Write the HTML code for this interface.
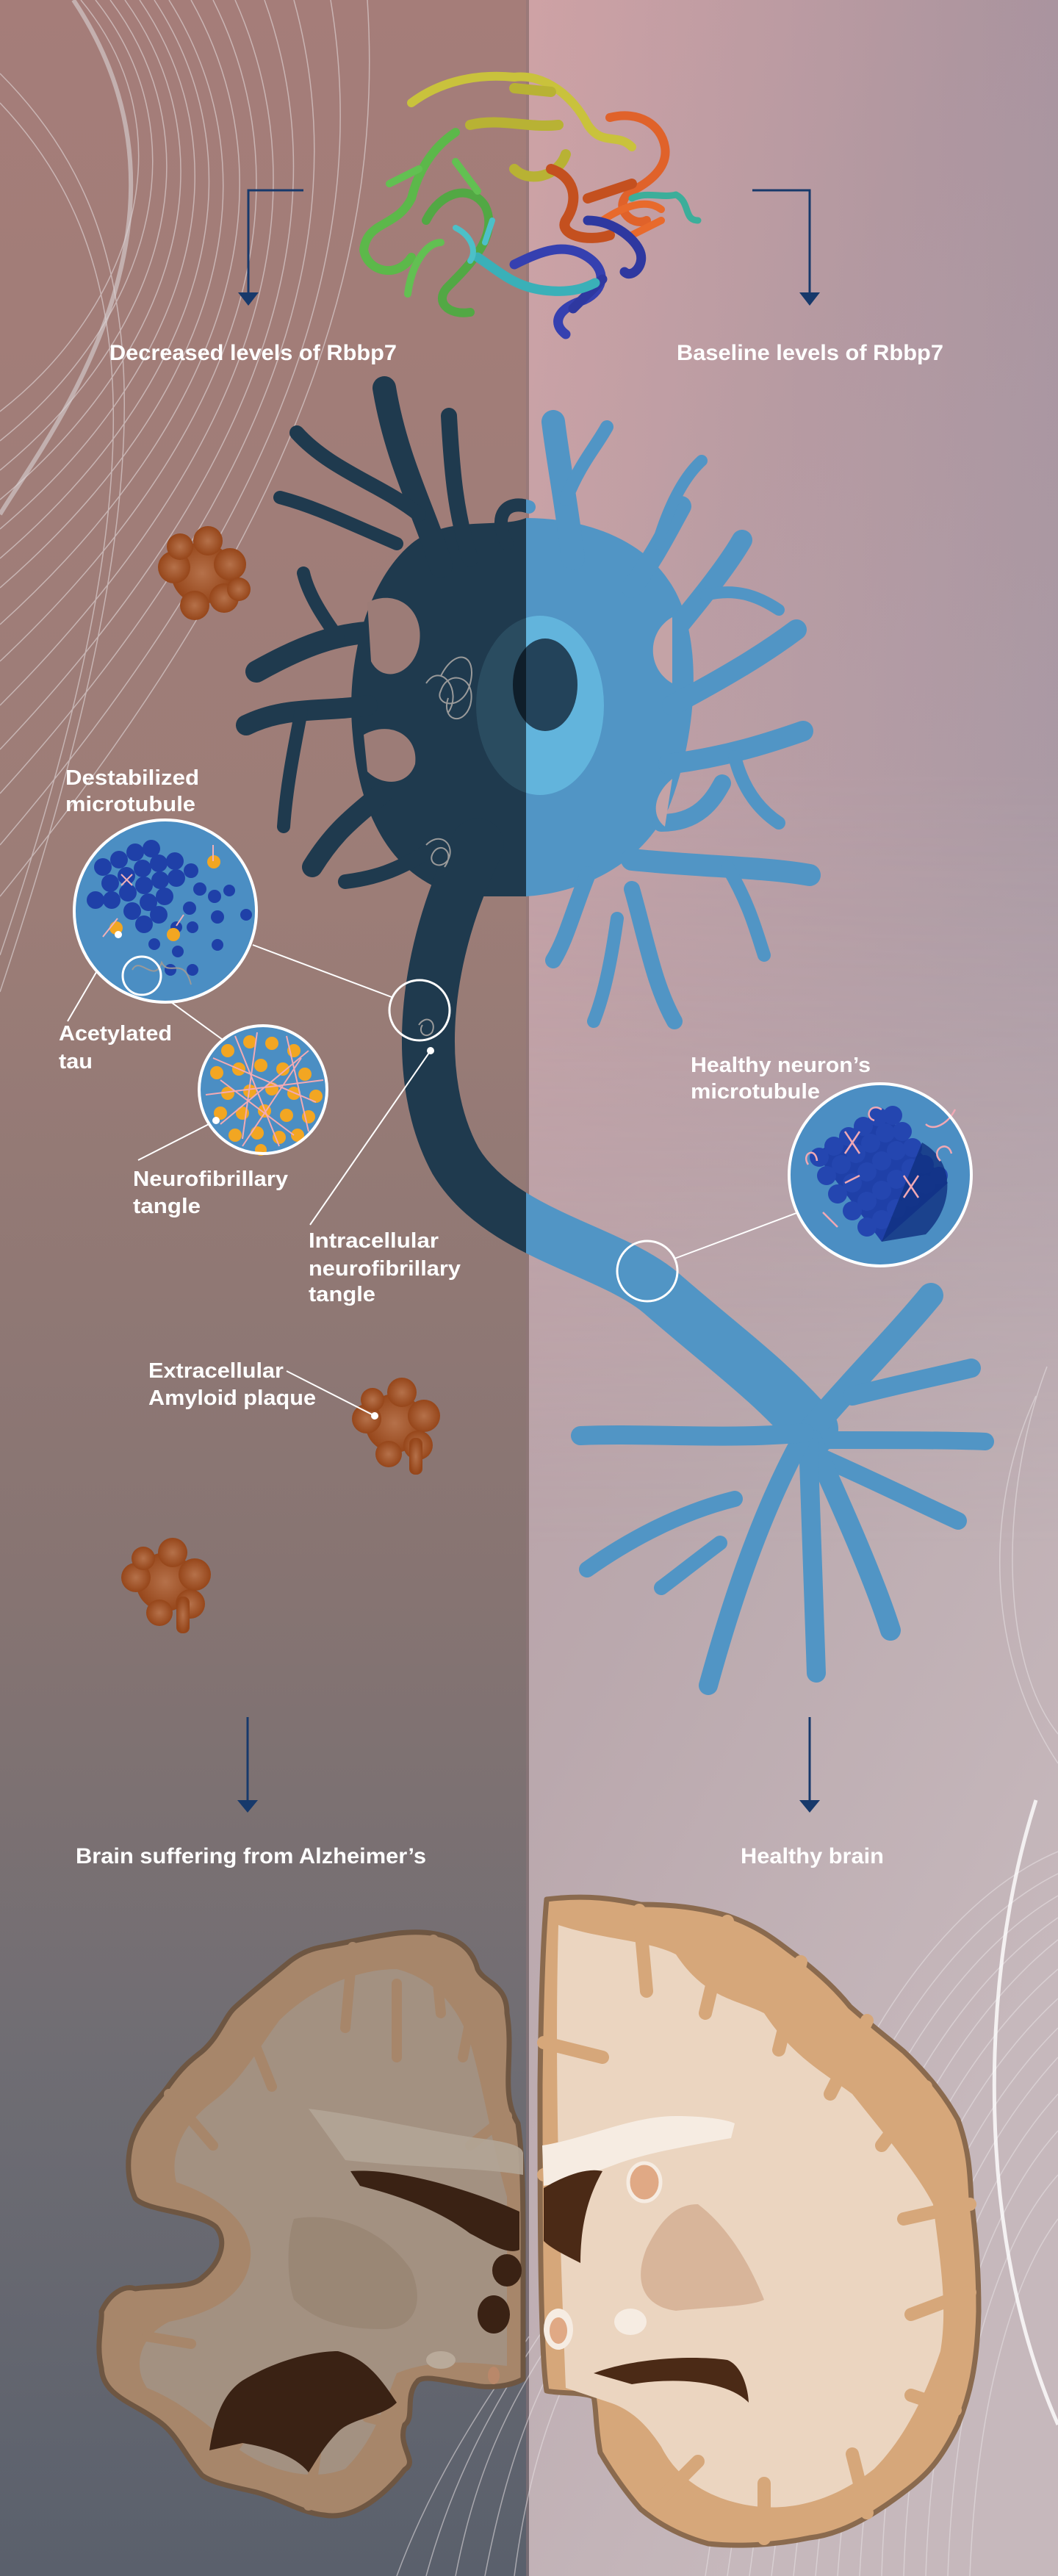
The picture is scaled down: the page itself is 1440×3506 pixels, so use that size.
<!DOCTYPE html>
<html><head><meta charset="utf-8"><style>
html,body{margin:0;padding:0;width:1440px;height:3506px;overflow:hidden}
svg{display:block}
text{font-family:"Liberation Sans Narrow","Liberation Sans",sans-serif;font-weight:bold;fill:#fff}
</style></head><body>
<svg width="1440" height="3506" viewBox="0 0 1440 3506" xmlns="http://www.w3.org/2000/svg">
<defs>
<linearGradient id="bgL" x1="0" y1="0" x2="0" y2="1">
<stop offset="0" stop-color="#a57d79"/><stop offset="0.35" stop-color="#9c7d77"/><stop offset="0.62" stop-color="#867472"/><stop offset="0.8" stop-color="#6f6d73"/><stop offset="1" stop-color="#5a606c"/></linearGradient>
<linearGradient id="bgR" x1="0" y1="0" x2="0.4" y2="1">
<stop offset="0" stop-color="#c99ea2"/><stop offset="0.3" stop-color="#b99ea4"/><stop offset="0.6" stop-color="#baa8ad"/><stop offset="1" stop-color="#c6b8bc"/></linearGradient>
<linearGradient id="bgR2" x1="0" y1="0" x2="1" y2="0">
<stop offset="0" stop-color="#d8a8ab" stop-opacity="0.35"/><stop offset="1" stop-color="#8e7f93" stop-opacity="0.35"/></linearGradient>
<linearGradient id="fade" x1="0" y1="0" x2="0" y2="1">
<stop offset="0" stop-color="#fff"/><stop offset="0.3" stop-color="#fff"/><stop offset="0.6" stop-color="#000"/><stop offset="1" stop-color="#000"/></linearGradient>
<mask id="m2"><rect x="720" y="0" width="720" height="3506" fill="url(#fade)"/></mask>
<radialGradient id="plq" cx="0.5" cy="0.5" r="0.5"><stop offset="0" stop-color="#b5714a"/><stop offset="1" stop-color="#96461a"/></radialGradient>
<clipPath id="cl"><rect x="0" y="0" width="716" height="3506"/></clipPath>
<clipPath id="cr"><rect x="716" y="0" width="724" height="3506"/></clipPath>
<g id="neu" stroke-linecap="round" stroke-linejoin="round">
<path stroke="none" d="M560,740 C610,700 680,720 716,705 C790,705 870,730 910,790 C960,860 950,1000 910,1100 C870,1180 790,1215 716,1220 L630,1220 C540,1200 490,1120 480,1000 C470,900 500,790 560,740 Z"/>
<path fill="none" stroke-width="32" d="M600,770 C580,700 540,630 523,528"/>
<path fill="none" stroke-width="20" d="M570,700 C520,660 450,640 404,589"/>
<path fill="none" stroke-width="18" d="M540,740 C470,710 430,690 381,677"/>
<path fill="none" stroke-width="22" d="M640,760 C620,700 615,640 611,566"/>
<path fill="none" stroke-width="18" d="M690,740 C670,700 690,680 720,690"/>
<path fill="none" stroke-width="30" d="M520,860 C460,860 410,880 349,914"/>
<path fill="none" stroke-width="18" d="M460,868 C440,840 420,810 413,780"/>
<path fill="none" stroke-width="28" d="M500,960 C440,970 390,960 335,987"/>
<path fill="none" stroke-width="18" d="M410,968 C400,1020 390,1070 386,1125"/>
<path fill="none" stroke-width="28" d="M520,1080 C470,1120 450,1140 425,1180"/>
<path fill="none" stroke-width="20" d="M580,1160 C540,1185 510,1195 470,1200"/>
<path fill="none" stroke-width="32" d="M780,760 C770,680 760,630 753,574"/>
<path fill="none" stroke-width="18" d="M770,680 C790,630 810,610 826,581"/>
<path fill="none" stroke-width="28" d="M860,800 C890,760 910,720 927,689"/>
<path fill="none" stroke-width="16" d="M895,740 C910,690 930,650 955,627"/>
<path fill="none" stroke-width="28" d="M900,880 C950,820 990,770 1010,735"/>
<path fill="none" stroke-width="16" d="M960,810 C1000,800 1030,810 1060,830"/>
<path fill="none" stroke-width="28" d="M915,960 C990,920 1040,890 1084,857"/>
<path fill="none" stroke-width="28" d="M910,1040 C990,1030 1050,1010 1093,995"/>
<path fill="none" stroke-width="18" d="M1000,1030 C1010,1070 1030,1100 1060,1120"/>
<path fill="none" stroke-width="24" d="M900,1120 C950,1120 970,1090 983,1066"/>
<path fill="none" stroke-width="30" d="M860,1170 C960,1180 1040,1180 1102,1191"/>
<path fill="none" stroke-width="18" d="M990,1180 C1020,1230 1030,1270 1040,1300"/>
<path fill="none" stroke-width="22" d="M800,1190 C780,1240 770,1280 753,1307"/>
<path fill="none" stroke-width="22" d="M860,1210 C880,1280 890,1340 918,1390"/>
<path fill="none" stroke-width="18" d="M840,1250 C830,1320 820,1360 808,1390"/>
<path fill="none" stroke-width="72" d="M650,1150 C575,1300 560,1470 620,1580 C680,1680 830,1700 900,1760 C980,1830 1050,1880 1105,1945"/>
<path fill="none" stroke-width="34" d="M1105,1945 C1160,1880 1220,1820 1267,1763"/>
<path fill="none" stroke-width="26" d="M1160,1900 C1240,1880 1290,1870 1322,1862"/>
<path fill="none" stroke-width="24" d="M1120,1960 C1220,1960 1290,1960 1341,1962"/>
<path fill="none" stroke-width="24" d="M1110,1980 C1200,2020 1260,2050 1304,2070"/>
<path fill="none" stroke-width="28" d="M1105,1960 C1150,2060 1190,2150 1212,2219"/>
<path fill="none" stroke-width="26" d="M1100,1960 C1105,2080 1108,2200 1111,2277"/>
<path fill="none" stroke-width="26" d="M1090,1960 C1030,2070 990,2200 964,2294"/>
<path fill="none" stroke-width="26" d="M1095,1950 C990,1960 880,1950 790,1954"/>
<path fill="none" stroke-width="22" d="M1000,2040 C920,2060 850,2100 799,2136"/>
<path fill="none" stroke-width="20" d="M980,2100 C940,2130 915,2150 900,2161"/>
</g>
</defs>

<rect x="0" y="0" width="720" height="3506" fill="url(#bgL)"/>
<rect x="720" y="0" width="720" height="3506" fill="url(#bgR)"/>
<rect x="720" y="0" width="720" height="3506" fill="url(#bgR2)" mask="url(#m2)"/>
<rect x="716" y="0" width="4" height="3506" fill="#8f7679" opacity="0.5"/>

<g fill="none" stroke="#e8e2e4" stroke-width="1.5" opacity="0.55">
<path d="M110,0 C260,180 180,420 0,560"/><path d="M130,0 C280,190 200,440 0,600"/><path d="M150,0 C300,200 220,460 0,640"/><path d="M170,0 C320,210 240,480 0,680"/><path d="M190,0 C340,220 260,500 0,720"/><path d="M210,0 C360,230 280,520 0,760"/><path d="M230,0 C380,240 300,540 0,800"/><path d="M260,0 C400,250 320,560 0,850"/><path d="M290,0 C420,260 340,580 0,900"/><path d="M320,0 C440,270 360,600 0,960"/><path d="M360,0 C460,280 380,620 0,1020"/><path d="M400,0 C480,290 400,640 0,1080"/><path d="M450,0 C500,300 420,660 0,1150"/><path d="M500,0 C520,310 440,680 0,1220"/><path d="M0,100 C200,300 250,600 0,1350"/><path d="M0,140 C180,330 230,620 0,1300"/>
<path d="M1440,2520 C1250,2600 1050,2900 960,3506"/><path d="M1440,2550 C1260,2640 1070,2930 990,3506"/><path d="M1440,2580 C1270,2680 1090,2960 1020,3506"/><path d="M1440,2610 C1280,2720 1110,2990 1050,3506"/><path d="M1440,2640 C1290,2760 1130,3020 1080,3506"/><path d="M1440,2680 C1300,2800 1150,3050 1110,3506"/><path d="M1440,2720 C1310,2840 1170,3080 1140,3506"/><path d="M1440,2760 C1320,2880 1190,3110 1170,3506"/><path d="M1440,2800 C1330,2920 1210,3140 1200,3506"/><path d="M1440,2850 C1340,2960 1240,3170 1230,3506"/><path d="M1440,2900 C1350,3000 1270,3200 1260,3506"/><path d="M1440,2960 C1360,3050 1300,3230 1290,3506"/><path d="M1440,3020 C1380,3100 1330,3260 1320,3506"/><path d="M1410,1900 C1340,2050 1340,2250 1440,2400"/><path d="M1425,1860 C1360,2030 1360,2260 1440,2360"/>
<path d="M700,3506 C720,3350 760,3250 800,3180"/><path d="M660,3506 C690,3350 730,3250 780,3170"/><path d="M620,3506 C650,3350 700,3260 760,3170"/><path d="M580,3506 C620,3360 680,3260 740,3170"/><path d="M540,3506 C590,3370 660,3270 720,3180"/>
</g>
<path d="M1410,2450 C1330,2700 1330,3050 1440,3300" fill="none" stroke="#fff" stroke-width="5" opacity="0.8"/>
<path d="M100,0 C300,300 60,600 0,700" fill="none" stroke="#d9d2d4" stroke-width="6" opacity="0.6"/>

<g fill="none" stroke-linecap="round" stroke-linejoin="round">
<path d="M560,140 C600,110 650,100 700,105 C740,100 780,130 800,170 C820,200 840,180 860,200" stroke="#c9c23c" stroke-width="12"/>
<path d="M640,170 C680,160 720,175 760,170 M700,120 L750,125 M770,210 C760,240 720,250 700,230" stroke="#b8b234" stroke-width="14"/>
<path d="M620,180 C590,200 570,230 560,270 C540,310 500,300 495,340 C500,370 540,380 560,350" stroke="#5cb84a" stroke-width="12"/>
<path d="M580,300 C600,260 640,250 660,280 C680,320 640,360 610,390 C590,410 610,430 640,425" stroke="#52a844" stroke-width="12"/>
<path d="M555,400 C560,360 580,330 600,330 M620,220 L650,260 M530,250 L570,230" stroke="#62c052" stroke-width="10"/>
<path d="M830,160 C870,150 900,170 905,200 C910,230 880,250 860,260 C830,280 860,310 880,300" stroke="#e0622a" stroke-width="12"/>
<path d="M750,230 C780,240 790,270 770,300 C760,320 800,330 830,320 M800,270 L860,250" stroke="#c4501f" stroke-width="14"/>
<path d="M820,300 C850,280 880,270 900,285 M860,320 L900,300" stroke="#e86a2c" stroke-width="10"/>
<path d="M860,270 C880,260 900,270 920,265 C940,275 930,300 950,300" stroke="#3cae9a" stroke-width="9"/>
<path d="M700,360 C740,340 770,330 800,350 C830,370 820,400 790,410 C760,420 750,440 770,455" stroke="#3540b0" stroke-width="13"/>
<path d="M800,300 C830,300 860,320 870,340 C880,360 860,380 850,370 M820,380 L780,420" stroke="#2e38a0" stroke-width="13"/>
<path d="M650,350 C680,370 700,390 740,395 C780,400 800,390 810,385" stroke="#3ab0b8" stroke-width="13"/>
<path d="M620,310 C640,320 650,340 640,355 M670,300 L660,330" stroke="#4cc0c8" stroke-width="8"/>
</g>

<g stroke="#17396b" stroke-width="3" fill="none">
<path d="M413,259 L338,259 L338,400"/><path d="M1024,259 L1102,259 L1102,400"/>
<path d="M337,2337 L337,2452"/><path d="M1102,2337 L1102,2452"/>
</g>
<g fill="#17396b">
<path d="M324,398 L352,398 L338,416 Z"/><path d="M1088,398 L1116,398 L1102,416 Z"/>
<path d="M323,2450 L351,2450 L337,2467 Z"/><path d="M1088,2450 L1116,2450 L1102,2467 Z"/>
</g>

<g fill="url(#plq)">
<g transform="translate(275,780)"><circle r="42"/><circle cx="-38" cy="-8" r="22"/><circle cx="38" cy="-12" r="22"/><circle cx="8" cy="-44" r="20"/><circle cx="-10" cy="44" r="20"/><circle cx="30" cy="34" r="20"/><circle cx="-30" cy="-36" r="18"/><circle cx="50" cy="22" r="16"/></g>
<g transform="translate(537,1937)"><circle r="40"/><circle cx="-38" cy="-6" r="20"/><circle cx="40" cy="-10" r="22"/><circle cx="10" cy="-42" r="20"/><circle cx="-8" cy="42" r="18"/><circle cx="32" cy="30" r="20"/><circle cx="-30" cy="-32" r="16"/><rect x="20" y="20" width="18" height="50" rx="8"/></g>
<g transform="translate(225,2153)"><circle r="40"/><circle cx="-40" cy="-6" r="20"/><circle cx="40" cy="-10" r="22"/><circle cx="10" cy="-40" r="20"/><circle cx="-8" cy="42" r="18"/><circle cx="34" cy="30" r="20"/><circle cx="-30" cy="-32" r="16"/><rect x="15" y="20" width="18" height="50" rx="8"/></g>
</g>

<use href="#neu" fill="#1f3a4e" stroke="#1f3a4e" clip-path="url(#cl)"/>
<use href="#neu" fill="#5195c5" stroke="#5195c5" clip-path="url(#cr)"/>
<g fill="#9c7c77"><path d="M500,820 C540,800 580,830 570,880 C560,920 520,930 505,900 Z"/><path d="M495,1000 C530,980 570,1000 565,1040 C555,1070 520,1070 500,1050 Z"/></g>
<g fill="#c4a3a6"><path d="M915,840 C880,860 880,910 915,930 Z"/><path d="M915,1060 C890,1080 885,1110 905,1125 Z"/></g>
<ellipse cx="735" cy="960" rx="87" ry="122" fill="#2a4c60" clip-path="url(#cl)"/>
<ellipse cx="735" cy="960" rx="87" ry="122" fill="#62b4dc" clip-path="url(#cr)"/>
<ellipse cx="742" cy="932" rx="44" ry="63" fill="#0f1e2a" clip-path="url(#cl)"/>
<ellipse cx="742" cy="932" rx="44" ry="63" fill="#23435a" clip-path="url(#cr)"/>
<g fill="none" stroke="#9a9a9a" stroke-width="2">
<path d="M600,920 C620,880 650,890 640,930 C630,970 590,960 600,940 C610,910 650,920 640,960 C630,990 600,980 610,950 M580,930 C600,900 630,940 610,970"/>
<path d="M580,1150 C600,1130 620,1150 610,1170 C600,1185 580,1175 590,1160 C600,1145 620,1160 605,1180"/>
<path d="M570,1395 C580,1380 595,1390 588,1405 C580,1415 568,1405 575,1395"/>
</g>

<g stroke="#fff" stroke-width="2" fill="none">
<path d="M344,1286 L533,1357"/><path d="M211,1348 L303,1415"/><path d="M161,1272 L92,1390"/><path d="M294,1525 L188,1579"/><path d="M586,1430 L422,1667"/><path d="M918,1713 L1084,1651"/><path d="M390,1866 L510,1927"/>
</g>
<circle cx="571" cy="1375" r="41" fill="none" stroke="#fff" stroke-width="3"/>
<circle cx="881" cy="1730" r="41" fill="none" stroke="#fff" stroke-width="3"/>

<g>
<circle cx="225" cy="1240" r="124" fill="#4b8ec3"/>
<g fill="#1f40a8">
<circle cx="140" cy="1180" r="12"/><circle cx="162" cy="1170" r="12"/><circle cx="184" cy="1160" r="12"/><circle cx="206" cy="1155" r="12"/><circle cx="150" cy="1202" r="12"/><circle cx="172" cy="1192" r="12"/><circle cx="194" cy="1182" r="12"/><circle cx="216" cy="1175" r="12"/><circle cx="238" cy="1172" r="12"/><circle cx="130" cy="1225" r="12"/><circle cx="152" cy="1225" r="12"/><circle cx="174" cy="1215" r="12"/><circle cx="196" cy="1205" r="12"/><circle cx="218" cy="1198" r="12"/><circle cx="240" cy="1195" r="12"/><circle cx="180" cy="1240" r="12"/><circle cx="202" cy="1228" r="12"/><circle cx="224" cy="1220" r="12"/><circle cx="196" cy="1258" r="12"/><circle cx="216" cy="1245" r="12"/><circle cx="260" cy="1185" r="10"/>
<circle cx="272" cy="1210" r="9"/><circle cx="292" cy="1220" r="9"/><circle cx="312" cy="1212" r="8"/><circle cx="258" cy="1236" r="9"/><circle cx="296" cy="1248" r="9"/><circle cx="335" cy="1245" r="8"/><circle cx="240" cy="1262" r="8"/><circle cx="262" cy="1262" r="8"/><circle cx="210" cy="1285" r="8"/><circle cx="242" cy="1295" r="8"/><circle cx="296" cy="1286" r="8"/><circle cx="232" cy="1320" r="8"/><circle cx="262" cy="1320" r="8"/>
</g>
<g fill="#f2a622"><circle cx="291" cy="1173" r="9"/><circle cx="158" cy="1263" r="9"/><circle cx="236" cy="1272" r="9"/></g>
<g fill="none" stroke="#f0b0b8" stroke-width="2"><path d="M290,1150 L290,1172 M160,1250 L140,1275 M240,1260 L250,1245 M165,1190 L180,1205 M180,1190 L165,1205"/></g>
<circle cx="161" cy="1272" r="5" fill="#fff"/>
<path d="M180,1320 C190,1300 210,1340 220,1310 C230,1330 250,1300 260,1340" fill="none" stroke="#999" stroke-width="2"/>
<circle cx="193" cy="1328" r="26" fill="none" stroke="#fff" stroke-width="3"/>
<circle cx="225" cy="1240" r="124" fill="none" stroke="#fff" stroke-width="4"/>
</g>

<g>
<circle cx="358" cy="1483" r="87" fill="#4b8ec3"/>
<g fill="#f2a622">
<circle cx="310" cy="1430" r="9"/><circle cx="340" cy="1418" r="9"/><circle cx="370" cy="1420" r="9"/><circle cx="400" cy="1430" r="9"/><circle cx="295" cy="1460" r="9"/><circle cx="325" cy="1455" r="9"/><circle cx="355" cy="1450" r="9"/><circle cx="385" cy="1455" r="9"/><circle cx="415" cy="1462" r="9"/><circle cx="310" cy="1488" r="9"/><circle cx="340" cy="1485" r="9"/><circle cx="370" cy="1482" r="9"/><circle cx="400" cy="1488" r="9"/><circle cx="430" cy="1492" r="9"/><circle cx="300" cy="1515" r="9"/><circle cx="330" cy="1515" r="9"/><circle cx="360" cy="1512" r="9"/><circle cx="390" cy="1518" r="9"/><circle cx="420" cy="1520" r="9"/><circle cx="320" cy="1545" r="9"/><circle cx="350" cy="1542" r="9"/><circle cx="380" cy="1548" r="9"/><circle cx="405" cy="1545" r="9"/><circle cx="355" cy="1565" r="8"/>
</g>
<g fill="none" stroke="#f2aab4" stroke-width="2">
<path d="M290,1440 L430,1500 M300,1530 L420,1430 M320,1410 L380,1560 M280,1490 L440,1470 M330,1560 L410,1440 M300,1470 L400,1545 M350,1405 L330,1550 M390,1410 L420,1540"/>
</g>
<circle cx="294" cy="1525" r="5" fill="#fff"/>
<circle cx="358" cy="1483" r="87" fill="none" stroke="#fff" stroke-width="4"/>
</g>
<circle cx="586" cy="1430" r="5" fill="#fff"/>
<circle cx="510" cy="1927" r="5" fill="#fff"/>

<g>
<circle cx="1198" cy="1599" r="124" fill="#4b8ec3"/>
<path d="M1110,1570 L1200,1510 L1290,1610 L1200,1690 Z" fill="#1f40a8"/>
<g fill="#2446b0">
<circle cx="1115" cy="1575" r="13"/><circle cx="1135" cy="1560" r="13"/><circle cx="1155" cy="1547" r="13"/><circle cx="1175" cy="1533" r="13"/><circle cx="1195" cy="1520" r="13"/><circle cx="1215" cy="1518" r="13"/><circle cx="1125" cy="1600" r="13"/><circle cx="1145" cy="1585" r="13"/><circle cx="1165" cy="1570" r="13"/><circle cx="1185" cy="1556" r="13"/><circle cx="1205" cy="1542" r="13"/><circle cx="1228" cy="1540" r="13"/><circle cx="1140" cy="1625" r="13"/><circle cx="1160" cy="1610" r="13"/><circle cx="1180" cy="1595" r="13"/><circle cx="1200" cy="1580" r="13"/><circle cx="1220" cy="1566" r="13"/><circle cx="1242" cy="1562" r="13"/><circle cx="1160" cy="1648" r="13"/><circle cx="1180" cy="1635" r="13"/><circle cx="1200" cy="1620" r="13"/><circle cx="1220" cy="1605" r="13"/><circle cx="1240" cy="1590" r="13"/><circle cx="1258" cy="1585" r="13"/><circle cx="1180" cy="1670" r="13"/><circle cx="1200" cy="1660" r="13"/><circle cx="1220" cy="1645" r="13"/><circle cx="1240" cy="1630" r="13"/><circle cx="1260" cy="1612" r="13"/><circle cx="1278" cy="1600" r="12"/>
</g>
<path d="M1255,1555 C1300,1580 1300,1640 1260,1680 L1200,1690 Z" fill="#0f2f80" opacity="0.8"/>
<g fill="none" stroke="#f0a8b4" stroke-width="2.5">
<path d="M1100,1585 C1090,1570 1110,1560 1112,1580 M1150,1540 L1170,1570 M1170,1540 L1150,1570 M1230,1600 L1250,1630 M1250,1600 L1230,1630 M1300,1510 C1290,1530 1270,1540 1260,1530 M1280,1580 C1265,1565 1290,1550 1295,1570 M1120,1650 L1140,1670 M1150,1610 L1170,1600 M1200,1510 C1185,1500 1175,1520 1190,1525"/>
</g>
<circle cx="1198" cy="1599" r="124" fill="none" stroke="#fff" stroke-width="4"/>
</g>

<g stroke-linejoin="round">
<path d="M542,2631 C600,2625 640,2640 650,2680 C660,2700 690,2700 690,2740 C700,2800 680,2850 705,2890 C712,2940 712,3000 712,3060 L712,3238 C690,3250 660,3250 643,3246 C610,3242 580,3232 569,3240 C550,3260 565,3290 551,3300 C540,3330 570,3350 551,3361 C520,3400 480,3430 441,3423 C410,3420 380,3400 349,3392 C320,3385 290,3380 275,3369 C250,3340 240,3310 211,3292 C180,3270 140,3260 138,3223 C130,3190 140,3160 138,3146 C150,3120 170,3110 184,3115 C220,3110 260,3115 275,3100 C300,3080 310,3050 294,3031 C270,3010 200,3010 184,2992 C170,2960 175,2930 179,2915 C190,2880 215,2860 230,2838 C250,2810 265,2800 275,2792 C300,2770 305,2745 321,2731 C350,2705 370,2690 395,2669 C420,2650 440,2650 459,2646 C490,2640 510,2635 542,2631 Z" fill="#a7866a" stroke="#6e5642" stroke-width="7"/>
<path d="M540,2680 C580,2690 620,2720 640,2780 C660,2850 670,2920 690,2990 L690,3220 C640,3215 590,3210 540,3230 C520,3280 510,3320 470,3360 C420,3380 360,3360 320,3330 C280,3300 250,3270 200,3250 C180,3220 190,3180 230,3160 C280,3150 330,3130 340,3080 C350,3030 300,2990 240,2970 C230,2930 250,2890 290,2860 C330,2830 350,2790 380,2750 C420,2710 480,2680 540,2680 Z" fill="#a39181"/>
<g fill="none" stroke="#a7866a" stroke-width="14" stroke-linecap="round">
<path d="M480,2650 L470,2760"/><path d="M590,2640 L600,2740"/><path d="M650,2700 L630,2800"/><path d="M330,2740 L370,2840"/><path d="M230,2850 L290,2920"/><path d="M690,2880 L640,2920"/><path d="M200,3180 L260,3190"/><path d="M300,3360 L340,3300"/><path d="M420,3410 L430,3340"/><path d="M540,3300 L500,3290"/><path d="M540,2700 L540,2800"/>
</g>
<path d="M420,2870 C500,2880 580,2900 650,2910 C690,2915 710,2920 712,2930 L712,2960 C650,2950 560,2950 470,2940 Z" fill="#b3a596" opacity="0.9"/>
<path d="M477,2955 C540,2950 640,2980 707,3010 L707,3062 C690,3070 660,3050 640,3040 C600,3010 550,2990 490,2975 Z" fill="#3a2214"/>
<ellipse cx="690" cy="3090" rx="20" ry="22" fill="#3a2214"/>
<ellipse cx="672" cy="3150" rx="22" ry="26" fill="#3a2214"/>
<path d="M285,3335 C290,3300 300,3260 330,3240 C380,3210 430,3200 460,3200 C500,3210 520,3240 540,3270 C520,3290 480,3290 460,3310 C440,3330 430,3350 420,3365 C400,3340 360,3330 330,3325 Z" fill="#3a2214"/>
<path d="M400,3020 C450,3010 520,3030 560,3090 C580,3140 560,3170 520,3170 C470,3170 430,3160 400,3130 C390,3100 390,3050 400,3020 Z" fill="#94806e" opacity="0.6"/>
<ellipse cx="600" cy="3212" rx="20" ry="12" fill="#b9aa9a"/>
<ellipse cx="672" cy="3233" rx="8" ry="12" fill="#b9886a"/>
</g>

<g stroke-linejoin="round">
<path d="M744,2585 C800,2578 840,2585 872,2592 C920,2592 960,2598 992,2608 C1040,2625 1060,2645 1084,2662 C1120,2690 1140,2710 1157,2731 C1190,2760 1210,2775 1230,2792 C1270,2830 1290,2860 1304,2885 C1320,2930 1320,2960 1322,2992 C1330,3060 1332,3100 1332,3146 C1330,3220 1320,3260 1304,3300 C1280,3350 1260,3370 1230,3392 C1180,3430 1140,3450 1102,3454 C1050,3465 1000,3466 964,3462 C920,3450 890,3430 872,3415 C850,3390 830,3360 817,3338 C810,3300 812,3280 808,3262 C790,3255 760,3258 744,3254 C735,3200 735,3000 735,2838 C736,2750 738,2650 744,2585 Z" fill="#d6a77a" stroke="#8a6a4e" stroke-width="7"/>
<path d="M760,2620 C820,2640 880,2640 920,2660 C960,2720 1000,2720 1040,2740 C1080,2800 1120,2820 1160,2850 C1200,2900 1250,2960 1270,3000 C1280,3080 1290,3140 1280,3200 C1260,3260 1230,3320 1190,3360 C1140,3400 1080,3420 1020,3410 C960,3400 920,3370 900,3330 C880,3300 860,3280 830,3270 L770,3250 C760,3000 755,2800 760,2620 Z" fill="#ebd5c0"/>
<g fill="none" stroke="#d6a77a" stroke-width="18" stroke-linecap="round">
<path d="M870,2600 L880,2710"/><path d="M990,2615 L960,2740"/><path d="M1090,2670 L1060,2790"/><path d="M1180,2750 L1130,2850"/><path d="M1260,2840 L1200,2920"/><path d="M1320,3000 L1230,3020"/><path d="M1320,3120 L1240,3150"/><path d="M1300,3280 L1240,3260"/><path d="M1180,3420 L1160,3340"/><path d="M1040,3455 L1040,3380"/><path d="M900,3400 L950,3350"/><path d="M740,2780 L820,2800"/><path d="M740,2960 L800,2930"/>
</g>
<path d="M738,2920 C800,2910 860,2880 920,2880 C960,2880 990,2885 1000,2890 L995,2910 C940,2920 880,2930 840,2945 C800,2960 770,2970 740,2975 Z" fill="#f6ece2"/>
<path d="M740,2978 C770,2960 800,2950 820,2955 C800,2990 790,3030 790,3080 C770,3070 750,3060 740,3050 Z" fill="#4b2a16"/>
<ellipse cx="877" cy="2970" rx="22" ry="26" fill="#e0a985" stroke="#f6ece2" stroke-width="5"/>
<path d="M808,3230 C860,3210 940,3205 990,3212 C1010,3220 1018,3250 1019,3270 C990,3240 920,3235 860,3245 Z" fill="#4b2a16"/>
<path d="M880,3060 C900,3020 920,3000 950,3000 C990,3030 1020,3080 1040,3130 C1020,3140 960,3140 920,3145 C880,3140 860,3110 880,3060 Z" fill="#d8b59a"/>
<ellipse cx="760" cy="3170" rx="20" ry="28" fill="#f6ece2"/><ellipse cx="760" cy="3172" rx="12" ry="18" fill="#e0a985"/>
<ellipse cx="858" cy="3160" rx="22" ry="18" fill="#f6ece2"/>
</g>

<text x="149" y="490" font-size="30" textLength="391" lengthAdjust="spacingAndGlyphs">Decreased levels of Rbbp7</text>
<text x="921" y="490" font-size="30" textLength="363" lengthAdjust="spacingAndGlyphs">Baseline levels of Rbbp7</text>
<text x="89" y="1068" font-size="29" textLength="182" lengthAdjust="spacingAndGlyphs">Destabilized</text>
<text x="89" y="1104" font-size="29" textLength="177" lengthAdjust="spacingAndGlyphs">microtubule</text>
<text x="80" y="1416" font-size="29" textLength="154" lengthAdjust="spacingAndGlyphs">Acetylated</text>
<text x="80" y="1454" font-size="29" textLength="46" lengthAdjust="spacingAndGlyphs">tau</text>
<text x="181" y="1614" font-size="29" textLength="211" lengthAdjust="spacingAndGlyphs">Neurofibrillary</text>
<text x="181" y="1651" font-size="29" textLength="92" lengthAdjust="spacingAndGlyphs">tangle</text>
<text x="420" y="1698" font-size="29" textLength="177" lengthAdjust="spacingAndGlyphs">Intracellular</text>
<text x="420" y="1736" font-size="29" textLength="207" lengthAdjust="spacingAndGlyphs">neurofibrillary</text>
<text x="420" y="1771" font-size="29" textLength="91" lengthAdjust="spacingAndGlyphs">tangle</text>
<text x="940" y="1459" font-size="29" textLength="245" lengthAdjust="spacingAndGlyphs">Healthy neuron’s</text>
<text x="940" y="1495" font-size="29" textLength="176" lengthAdjust="spacingAndGlyphs">microtubule</text>
<text x="202" y="1875" font-size="29" textLength="184" lengthAdjust="spacingAndGlyphs">Extracellular</text>
<text x="202" y="1912" font-size="29" textLength="228" lengthAdjust="spacingAndGlyphs">Amyloid plaque</text>
<text x="103" y="2536" font-size="30" textLength="477" lengthAdjust="spacingAndGlyphs">Brain suffering from Alzheimer’s</text>
<text x="1008" y="2536" font-size="30" textLength="195" lengthAdjust="spacingAndGlyphs">Healthy brain</text>
</svg>
</body></html>
